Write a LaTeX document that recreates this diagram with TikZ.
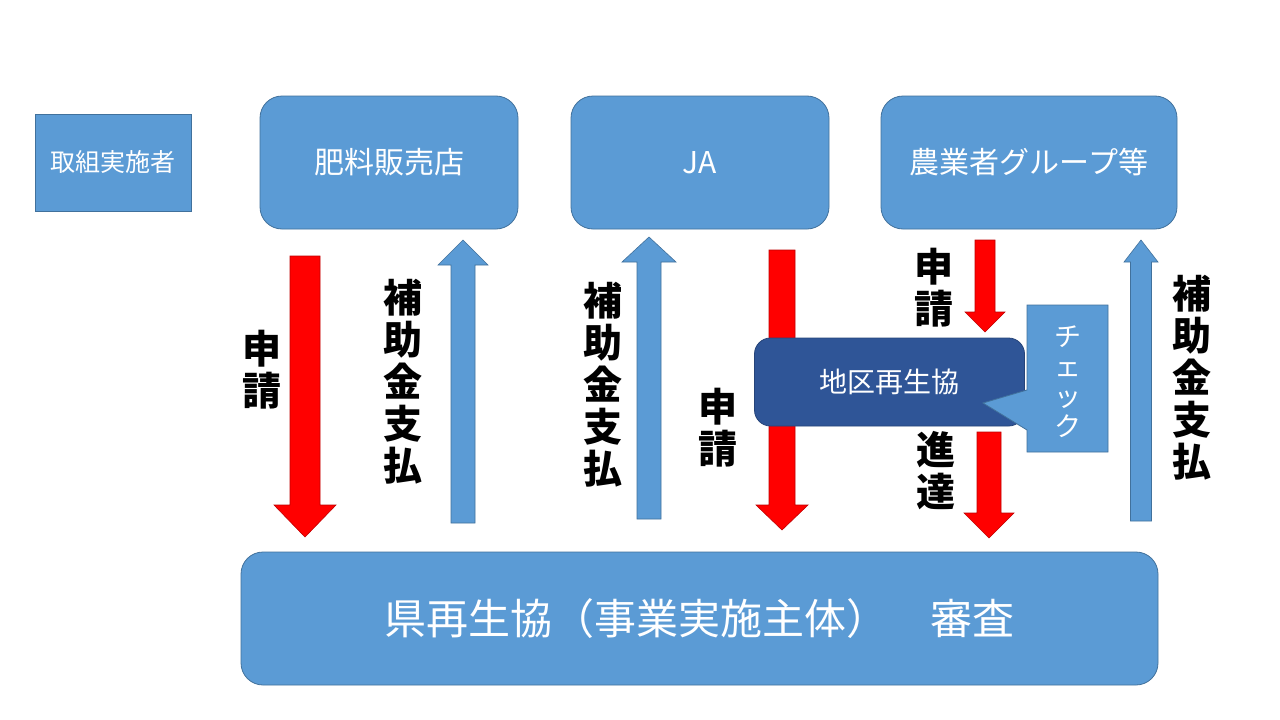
\documentclass[tikz,border=0pt]{standalone}
\usepackage{fontspec}
\newfontfamily\jp{Noto Sans CJK JP}
\usetikzlibrary{positioning}
\definecolor{boxblue}{RGB}{91,155,213}
\definecolor{boxedge}{RGB}{65,113,156}
\definecolor{localblue}{RGB}{47,85,151}
\definecolor{arrowred}{RGB}{255,0,0}
\definecolor{arrowedge}{RGB}{192,0,0}

% block arrow: x, tail y, head base y, tip y, half shaft, half head, style
\newcommand\blockarrow[7]{%
  \filldraw[#7] (#1-#5,#2) -- (#1+#5,#2) -- (#1+#5,#3) -- (#1+#6,#3) -- (#1,#4)
    -- (#1-#6,#3) -- (#1-#5,#3) -- cycle;}

\tikzset{
  orgbox/.style={fill=boxblue, draw=boxedge, line width=0.8pt, rounded corners=22pt,
    text=white, inner sep=0pt, font=\jp\fontsize{30}{34}\selectfont},
  redarrow/.style={fill=arrowred, draw=arrowedge, line width=0.6pt},
  bluearrow/.style={fill=boxblue, draw=boxedge, line width=0.6pt},
  vlabel/.style={align=center, inner sep=0pt, font=\jp\bfseries\fontsize{39}{42}\selectfont}
}

\begin{document}
\begin{tikzpicture}[x=1pt,y=-1pt]
    \fill[white] (0,0) rectangle (1280,720);
    \useasboundingbox (0,0) rectangle (1280,720);

    % top row
    \node[orgbox, rounded corners=0pt, minimum width=156pt, minimum height=97pt,
          font=\jp\fontsize{25}{30}\selectfont] (actor) at (113,162.5) {取組実施者};
    \node[orgbox, minimum width=258pt, minimum height=133pt] (shop) at (389,162.5) {肥料販売店};
    \node[orgbox, minimum width=258pt, minimum height=133pt] (ja) at (700,162.5) {JA};
    \node[orgbox, minimum width=296pt, minimum height=133pt] (group) at (1029,162.5) {農業者グループ等};

    % bottom
    \node[orgbox, minimum width=917pt, minimum height=133pt,
          font=\jp\fontsize{42}{48}\selectfont] (pref) at (699.5,618.5) {県再生協（事業実施主体）　審査};

    % arrows, shop
    \blockarrow{305}{256}{505}{537}{15}{31}{redarrow}
    \blockarrow{463}{523}{265}{240}{12}{25}{bluearrow}
    \node[vlabel] (shopapply) at (262,370) {申\\請};
    \node[vlabel] (shoppay) at (403,382) {補\\助\\金\\支\\払};

    % arrows, JA
    \blockarrow{649}{519}{262}{237}{12}{27}{bluearrow}
    \blockarrow{782}{250}{505}{530}{13}{26}{redarrow}
    \node[vlabel] (japay) at (603,385) {補\\助\\金\\支\\払};
    \node[vlabel] (jaapply) at (718,428) {申\\請};

    % local council
    \node[fill=localblue, draw=localblue!80!black, line width=0.8pt, rounded corners=16pt,
          minimum width=270pt, minimum height=88pt, inner sep=0pt, text=white,
          font=\jp\fontsize{28}{32}\selectfont] (local) at (889.5,382) {地区再生協};
    \filldraw[bluearrow, line width=0.8pt] (1027,305) -- (1108,305) -- (1108,452) -- (1027,452)
      -- (1027,430) -- (983,403) -- (1027,390) -- cycle;
    \node[align=center, inner sep=0pt, text=white, font=\jp\fontsize{27}{30}\selectfont]
      (check) at (1068,382) {チ\\ェ\\ッ\\ク};

    % arrows, group
    \blockarrow{985}{240}{312}{332}{10}{20}{redarrow}
    \blockarrow{989}{432}{513}{538}{12}{25}{redarrow}
    \blockarrow{1141}{521}{262}{240}{10.5}{17}{bluearrow}
    \node[vlabel] (grpapply) at (934,288) {申\\請};
    \node[vlabel] (grpsend) at (936,471) {進\\達};
    \node[vlabel] (grppay) at (1192,378) {補\\助\\金\\支\\払};
\end{tikzpicture}
\end{document}
